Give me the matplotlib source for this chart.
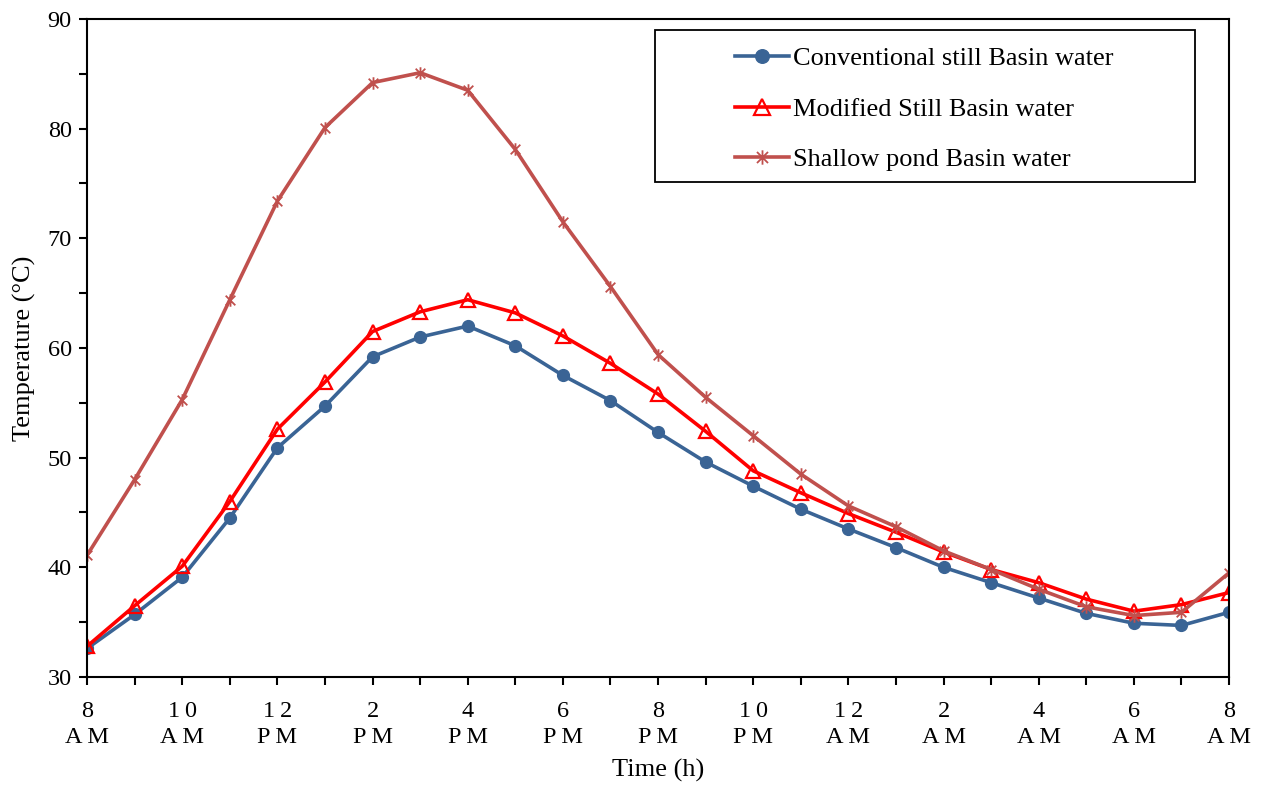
import matplotlib.pyplot as plt
from matplotlib.path import Path
from matplotlib.patches import Rectangle

# hourly readings, 8 AM to 8 AM next day
hours = list(range(25))
tick_labels = ['8\nAM', '10\nAM', '12\nPM', '2\nPM', '4\nPM', '6\nPM', '8\nPM',
               '10\nPM', '12\nAM', '2\nAM', '4\nAM', '6\nAM', '8\nAM']

conventional = [32.6, 35.7, 39.1, 44.5, 50.9, 54.7, 59.2, 61.0, 62.0, 60.2, 57.5, 55.2, 52.3,
                49.6, 47.4, 45.3, 43.5, 41.8, 40.0, 38.6, 37.2, 35.8, 34.9, 34.7, 35.9]
modified = [32.8, 36.5, 40.1, 46.0, 52.6, 56.9, 61.5, 63.3, 64.4, 63.2, 61.1, 58.6, 55.8,
            52.4, 48.8, 46.8, 44.9, 43.2, 41.4, 39.8, 38.6, 37.1, 36.0, 36.6, 37.7]
shallow = [41.1, 48.0, 55.3, 64.4, 73.4, 80.1, 84.2, 85.1, 83.5, 78.1, 71.5, 65.6, 59.4,
           55.5, 52.0, 48.5, 45.6, 43.7, 41.5, 39.8, 38.0, 36.4, 35.6, 35.9, 39.5]

plt.rcParams['font.family'] = ['Liberation Serif', 'DejaVu Serif']


def spaced(s):
    # the original labels are letter-spaced
    return '\n'.join('\u2009'.join(part) for part in s.split('\n'))


# excel-like asterisk marker (x with a vertical stroke)
star = Path([(-1, -1), (1, 1), (-1, 1), (1, -1), (0, -1.3), (0, 1.3)],
            [Path.MOVETO, Path.LINETO, Path.MOVETO, Path.LINETO, Path.MOVETO, Path.LINETO])

fig = plt.figure(figsize=(12.62, 7.85), dpi=100)
ax = fig.add_axes([0.069, 0.1376, 0.9049, 0.8382])

ax.plot(hours, conventional, color='#3A6495', lw=2.6, marker='o', ms=8.5,
        label='Conventional still Basin water')
ax.plot(hours, modified, color='#FF0000', lw=2.6, marker='^', ms=9.5, mfc='none', mew=1.6,
        label='Modified Still Basin water')
ax.plot(hours, shallow, color='#C0504D', lw=2.6, marker=star, ms=9, mew=1.3,
        label='Shallow pond Basin water')

ax.set_xlim(0, 24)
ax.set_ylim(30, 90)
ax.set_xticks(hours)
ax.set_xticklabels([spaced(tick_labels[i // 2]) if i % 2 == 0 else '' for i in hours],
                   fontsize=17, linespacing=1.35)
ax.set_yticks(range(30, 91, 10))
ax.set_yticks(range(35, 90, 10), minor=True)
ax.tick_params(axis='both', direction='out', length=6, width=1.5, labelsize=17.5)
ax.tick_params(axis='y', which='minor', direction='out', length=6, width=1.5)
ax.tick_params(axis='x', pad=11)
ax.tick_params(axis='y', pad=5)
for s in ax.spines.values():
    s.set_linewidth(1.5)

ax.set_xlabel('Time (h)', fontsize=19, labelpad=8)
ax.set_ylabel('Temperature (°C)', fontsize=19, labelpad=8)

# legend box drawn separately so the entries can sit indented like the original
ax.add_patch(Rectangle((0.4974, 0.7523), 0.4729, 0.2310, transform=ax.transAxes,
                       fill=False, edgecolor='black', lw=1.3, zorder=5))
ax.legend(loc='upper left', bbox_to_anchor=(0.5674, 0.9575), frameon=False,
          fontsize=19, handlelength=2.05, handletextpad=0.15, labelspacing=1.02,
          borderpad=0, borderaxespad=0, markerscale=1.15)

fig.savefig('out.png', dpi=100)
